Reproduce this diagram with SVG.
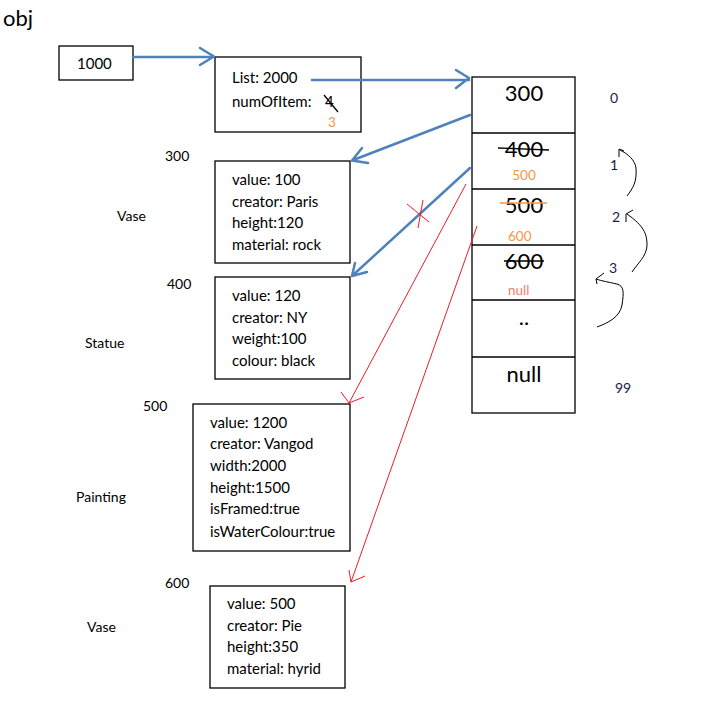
<svg xmlns="http://www.w3.org/2000/svg" width="702" height="701" viewBox="0 0 702 701">
  <style>
    text { font-family: Lato, "Open Sans", "Liberation Sans", sans-serif; fill: #000; }
    .box { fill: #fff; stroke: #000; stroke-width: 1.3; }
    .t { font-size: 15px; }
    .lbl { font-size: 14px; }
    .big { font-size: 22px; }
    .idx { font-size: 14px; fill: #1a1a4a; }
    .small { font-size: 13.5px; }
    .orange { fill: #f79646; }
    .salmon { fill: #f4806a; }
    .blue { fill: none; stroke: #4f81bd; stroke-width: 2.5; stroke-linecap: round; stroke-linejoin: round; }
    .red { fill: none; stroke: #ee1c24; stroke-width: 1; }
    .ink { fill: none; stroke: #000; stroke-width: 1; }
    .strike { stroke: #000; stroke-width: 1.3; }
  </style>

  <text x="3" y="26" style="font-size:22px">obj</text>

  <!-- reference variable -->
  <g id="obj-ref">
    <rect class="box" x="59" y="46" width="74" height="34"/>
    <text class="t" x="77" y="69">1000</text>
  </g>

  <!-- list object -->
  <g id="list-object">
    <rect class="box" x="215" y="57" width="146" height="75"/>
    <text class="t" x="232" y="83">List: 2000</text>
    <text class="t" x="232" y="107">numOfItem: <tspan x="325">4</tspan></text>
    <line class="strike" x1="324" y1="95" x2="338" y2="112"/>
    <text class="small orange" x="328" y="127">3</text>
  </g>

  <!-- backing array -->
  <g id="array">
    <rect class="box" x="472" y="77" width="103" height="336"/>
    <line class="ink" x1="472" y1="133" x2="575" y2="133" style="stroke-width:1.3"/>
    <line class="ink" x1="472" y1="189" x2="575" y2="189" style="stroke-width:1.3"/>
    <line class="ink" x1="472" y1="245" x2="575" y2="245" style="stroke-width:1.3"/>
    <line class="ink" x1="472" y1="300" x2="575" y2="300" style="stroke-width:1.3"/>
    <line class="ink" x1="472" y1="357" x2="575" y2="357" style="stroke-width:1.3"/>
    <text class="big" x="524" y="101" text-anchor="middle">300</text>
    <text class="big" x="524" y="157" text-anchor="middle">400</text>
    <line class="strike" x1="498" y1="148" x2="549" y2="150"/>
    <text class="small orange" x="524" y="180" text-anchor="middle">500</text>
    <text class="big" x="524" y="213" text-anchor="middle">500</text>
    <line x1="500" y1="203" x2="547" y2="203" stroke="#f79646" stroke-width="1.3"/>
    <text class="small orange" x="508" y="241">600</text>
    <text class="big" x="524" y="269" text-anchor="middle">600</text>
    <line class="strike" x1="504" y1="261" x2="544" y2="261"/>
    <text class="small salmon" x="508" y="295">null</text>
    <text class="big" x="524" y="325" text-anchor="middle">..</text>
    <text class="big" x="524" y="382" text-anchor="middle">null</text>
  </g>

  <!-- indices -->
  <g id="indices">
    <text class="idx" x="610" y="103">0</text>
    <text class="idx" x="610" y="170">1</text>
    <text class="idx" x="612" y="222">2</text>
    <text class="idx" x="609" y="273">3</text>
    <text class="idx" x="615" y="393">99</text>
  </g>

  <!-- item objects -->
  <g id="vase-300">
    <text class="lbl" x="165" y="161">300</text>
    <text class="lbl" x="117" y="221">Vase</text>
    <rect class="box" x="215" y="161" width="135" height="102"/>
    <text class="t" x="232" y="185">value: 100</text>
    <text class="t" x="232" y="207">creator: Paris</text>
    <text class="t" x="232" y="228">height:120</text>
    <text class="t" x="232" y="250">material: rock</text>
  </g>

  <g id="statue-400">
    <text class="lbl" x="167" y="289">400</text>
    <text class="lbl" x="85" y="348">Statue</text>
    <rect class="box" x="215" y="277" width="135" height="102"/>
    <text class="t" x="232" y="301">value: 120</text>
    <text class="t" x="232" y="323">creator: NY</text>
    <text class="t" x="232" y="344">weight:100</text>
    <text class="t" x="232" y="366">colour: black</text>
  </g>

  <g id="painting-500">
    <text class="lbl" x="143" y="411">500</text>
    <text class="lbl" x="76" y="502">Painting</text>
    <rect class="box" x="193" y="404" width="157" height="147"/>
    <text class="t" x="210" y="428">value: 1200</text>
    <text class="t" x="210" y="449">creator: Vangod</text>
    <text class="t" x="210" y="471">width:2000</text>
    <text class="t" x="210" y="493">height:1500</text>
    <text class="t" x="210" y="514">isFramed:true</text>
    <text class="t" x="210" y="537">isWaterColour:true</text>
  </g>

  <g id="vase-600">
    <text class="lbl" x="165" y="588">600</text>
    <text class="lbl" x="87" y="632">Vase</text>
    <rect class="box" x="210" y="586" width="135" height="102"/>
    <text class="t" x="227" y="609">value: 500</text>
    <text class="t" x="227" y="631">creator: Pie</text>
    <text class="t" x="227" y="652">height:350</text>
    <text class="t" x="227" y="674">material: hyrid</text>
  </g>

  <!-- connectors -->
  <g id="connectors">
    <path class="blue" d="M133 57 H214 M200 48 L214 56.5 L200 65"/>
    <path class="blue" d="M312 80 H469 M456 70 L469 78 L456 88"/>
    <path class="blue" d="M470 115 L352 160.5 M362 148 L352 160.5 L368 163"/>
    <path class="blue" d="M470 168 L352 276 M355 263 L352 276 L367 272"/>

    <path class="red" d="M466 184 L349 403 M341 392 L349 403 L364 397"/>
    <path class="red" d="M477 226 L351 582 M349 570 L351 582 L365 576"/>
    <path class="red" d="M407 204 L429 222 M423 200 L418 228"/>

    <!-- shifting arrows -->
    <path class="ink" d="M627 196 C633 188 637 182 636 168 C635 160 628 154 620 150 M619 149 L619 157 M619 149 L624 151"/>
    <path class="ink" d="M632 272 C637 264 647 256 647 245 C647 234 644 226 627 214 M626 214 L626 222 M626 214 L633 210"/>
    <path class="ink" d="M597 327 C608 323 620 317 622 305 C624 292 624 286 617 284 C608 282 602 281 596 279 M596 279 L597 284 M596 279 L604 273"/>
  </g>
</svg>
